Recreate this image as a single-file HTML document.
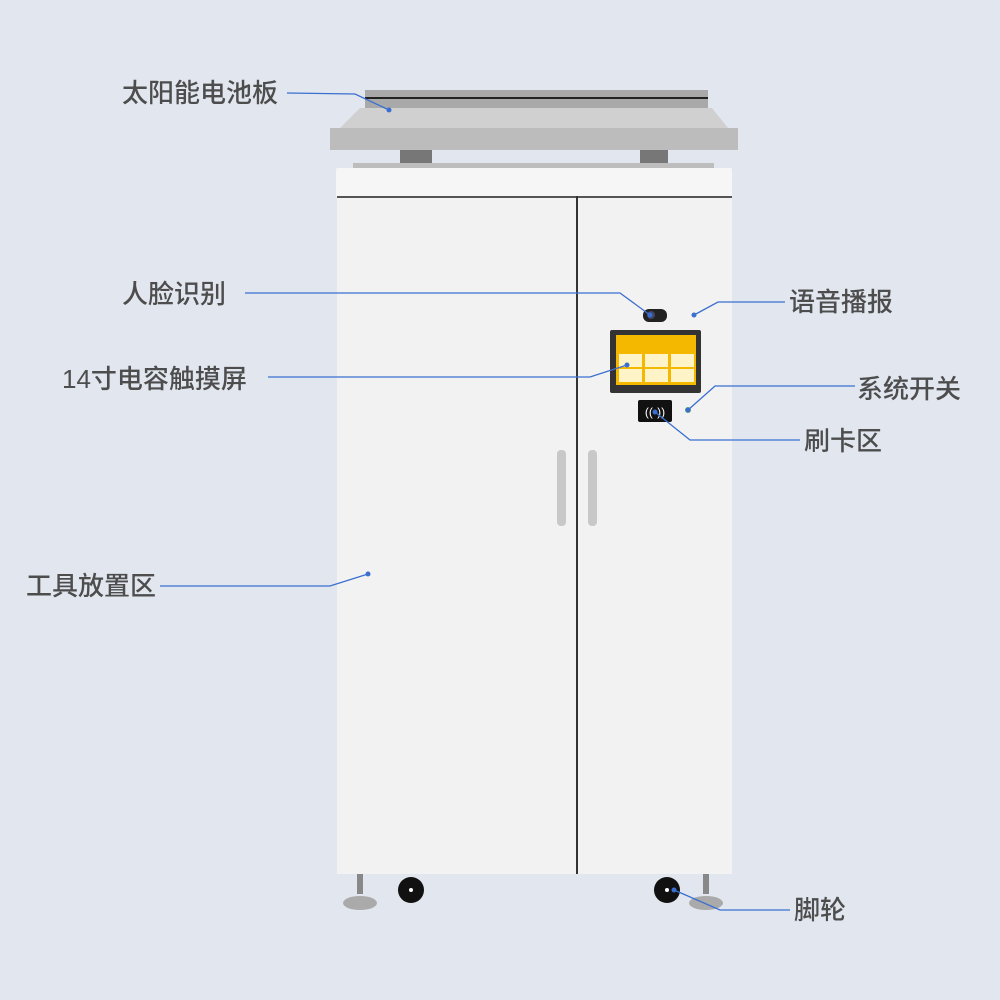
<!DOCTYPE html>
<html><head><meta charset="utf-8"><style>
html,body{margin:0;padding:0;background:#e1e6ef;}
svg{display:block}
text{font-family:"Liberation Sans","Noto Sans CJK SC",sans-serif;font-size:26px;fill:#4d4d4d;font-weight:500}
</style></head><body>
<svg width="1000" height="1000" viewBox="0 0 1000 1000">
<rect width="1000" height="1000" fill="#e1e6ef"/>
<polygon points="365,90 708,90 708,108 365,108" fill="#a9a9a9"/>
<rect x="365" y="97" width="343" height="2" fill="#222"/>
<polygon points="360,108 712,108 728,128 340,128" fill="#d0d0d0"/>
<rect x="330" y="128" width="408" height="22" fill="#bcbcbc"/>
<rect x="400" y="150" width="32" height="13" fill="#777"/>
<rect x="640" y="150" width="28" height="13" fill="#777"/>
<rect x="353" y="163" width="361" height="5" fill="#bdbdbd"/>
<rect x="336" y="168" width="396" height="30" fill="#f6f6f6" rx="2"/>
<rect x="337" y="197" width="395" height="677" fill="#f2f2f2"/>
<rect x="337" y="196" width="395" height="2" fill="#555"/>
<rect x="576" y="196" width="2" height="678" fill="#333"/>
<rect x="557" y="450" width="9" height="76" rx="4" fill="#c8c8c8"/>
<rect x="588" y="450" width="9" height="76" rx="4" fill="#c8c8c8"/>
<rect x="643" y="309" width="24" height="13" rx="6" fill="#222"/>
<circle cx="651" cy="315" r="4" fill="#446"/>
<rect x="610" y="330" width="91" height="63" fill="#333" rx="2"/>
<rect x="616" y="335" width="80" height="50" fill="#f5b800"/>
<g fill="#fff3c8">
<rect x="619" y="354" width="23" height="13"/><rect x="645" y="354" width="23" height="13"/><rect x="671" y="354" width="23" height="13"/>
<rect x="619" y="369" width="23" height="13"/><rect x="645" y="369" width="23" height="13"/><rect x="671" y="369" width="23" height="13"/>
</g>
<rect x="638" y="400" width="34" height="22" rx="2" fill="#111"/>
<text x="655" y="416" text-anchor="middle" style="font-size:12px;fill:#fff">((•))</text>
<circle cx="688" cy="410" r="3" fill="#6a6"/>
<rect x="357" y="874" width="6" height="20" fill="#888"/>
<ellipse cx="360" cy="903" rx="17" ry="7" fill="#aaa"/>
<rect x="703" y="874" width="6" height="20" fill="#888"/>
<ellipse cx="706" cy="903" rx="17" ry="7" fill="#aaa"/>
<circle cx="411" cy="890" r="13" fill="#111"/><circle cx="411" cy="890" r="2" fill="#fff"/>
<circle cx="667" cy="890" r="13" fill="#111"/><circle cx="667" cy="890" r="2" fill="#fff"/>
<g stroke="#3a6fd0" stroke-width="1.3" fill="none">
<polyline points="287,93 355,94 389,110"/>
<polyline points="245,293 620,293 650,315"/>
<polyline points="785,302 718,302 694,315"/>
<polyline points="268,377 590,377 627,365"/>
<polyline points="855,386 715,386 688,410"/>
<polyline points="800,440 690,440 655,412"/>
<polyline points="160,586 330,586 368,574"/>
<polyline points="790,910 720,910 674,890"/>
</g>
<g fill="#3a6fd0">
<circle cx="389" cy="110" r="2.5"/><circle cx="650" cy="315" r="2.5"/><circle cx="694" cy="315" r="2.5"/>
<circle cx="627" cy="365" r="2.5"/><circle cx="688" cy="410" r="2.5"/><circle cx="655" cy="412" r="2.5"/>
<circle cx="368" cy="574" r="2.5"/><circle cx="674" cy="890" r="2.5"/>
</g>
<text x="122" y="102">太阳能电池板</text>
<text x="122" y="303">人脸识别</text>
<text x="789" y="311">语音播报</text>
<text x="62" y="388">14寸电容触摸屏</text>
<text x="857" y="398">系统开关</text>
<text x="804" y="450">刷卡区</text>
<text x="26" y="595">工具放置区</text>
<text x="794" y="919">脚轮</text>
</svg>
</body></html>
